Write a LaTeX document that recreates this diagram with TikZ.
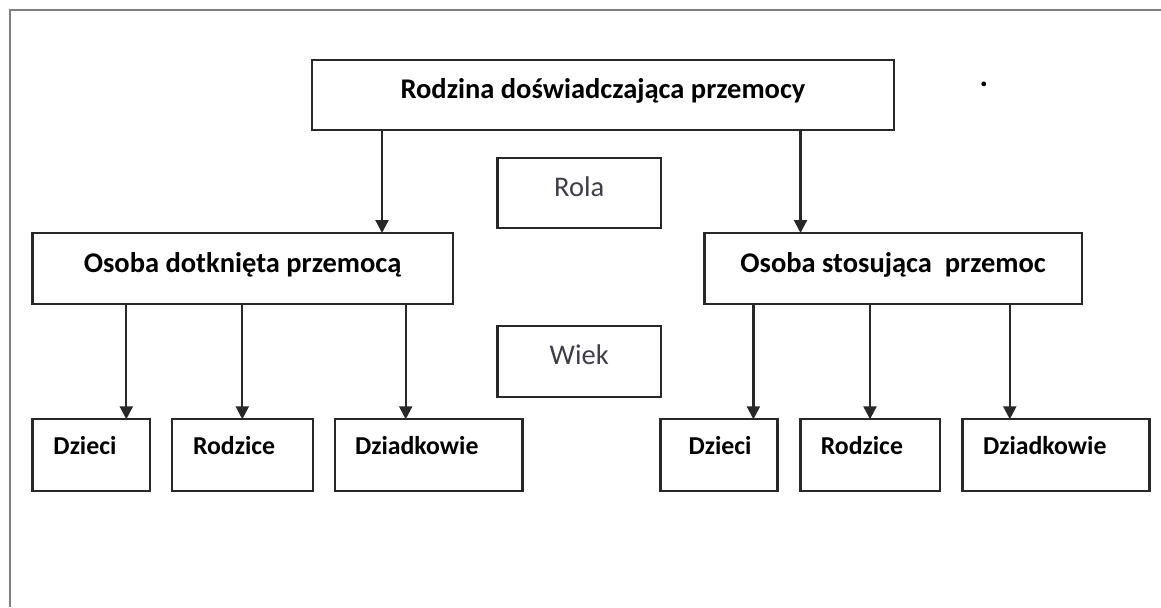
\documentclass[tikz,border=0pt]{standalone}
\usepackage{fontspec}
\setmainfont{Carlito}
\usepackage{tikz}
\usetikzlibrary{positioning,calc}
\usetikzlibrary{arrows.meta}

\definecolor{liniaszara}{RGB}{40,40,40}
\definecolor{ramkaszara}{RGB}{128,128,128}
\definecolor{tekstszary}{RGB}{62,62,72}

\begin{document}
\begin{tikzpicture}[x=0.5pt,y=-0.5pt,
  every node/.style={font=\fontsize{14.25}{17}\selectfont},
  blok/.style={draw=liniaszara,line width=1.1pt,rectangle,inner sep=0pt,outer sep=0pt,
    minimum height=35pt,text height=8.5pt,text depth=5pt,font=\fontsize{14.25}{17}\selectfont\bfseries},
  etykieta/.style={blok,font=\fontsize{14.25}{17}\selectfont,text=tekstszary},
  lisc/.style={draw=liniaszara,line width=1.1pt,rectangle,inner ysep=0pt,outer sep=0pt,
    align=left,text height=17.35pt,text depth=18.35pt,font=\fontsize{12.9}{15}\selectfont\bfseries},
  strz/.style={draw=liniaszara,line width=1.1pt,-{Triangle[width=6.5pt,length=6.5pt]}},
  ramka/.style={draw=ramkaszara,line width=1pt}]
  \useasboundingbox (0,0) rectangle (1161,607);
  % ramka
  \draw[ramka] (9.6,607) |- (1161,10);
  % poziom 0
  \node[blok,minimum width=291pt] (rodzina) at (603,95) {Rodzina doświadczająca przemocy};
  \node[etykieta,minimum width=81.75pt] (rola) at (579.25,193) {Rola};
  \node[etykieta,minimum width=81.75pt,minimum height=35.35pt] (wiek) at (579.25,361.3) {Wiek};
  \node[font=\fontsize{16}{18}\selectfont\bfseries] (kropka) at (984,84) {.};
  % poziom 1
  \node[blok,minimum width=210.1pt,minimum height=35.5pt,text height=9pt] (ofiara) at (242.6,268.5) {Osoba dotknięta przemocą};
  \node[blok,minimum width=188.6pt,minimum height=35.5pt,text height=9pt] (sprawca) at (893.1,268.5) {Osoba stosująca\ \ przemoc};
  % poziom 2
  \node[lisc,anchor=north west,inner xsep=10.5pt,text width=37.75pt] (dzieciL) at (32.5,419.3) {Dzieci};
  \node[lisc,right=11pt of dzieciL,inner xsep=10.5pt,text width=49.35pt] (rodziceL) {Rodzice};
  \node[lisc,right=11.15pt of rodziceL,inner xsep=10pt,text width=73.7pt] (dziadkowieL) {Dziadkowie};
  \node[lisc,anchor=north west,inner xsep=14.1pt,text width=30.35pt] (dzieciP) at (660.4,419.3) {Dzieci};
  \node[lisc,right=11.5pt of dzieciP,inner xsep=10.15pt,text width=49.45pt] (rodziceP) {Rodzice};
  \node[lisc,right=11.2pt of rodziceP,inner xsep=10.3pt,text width=72.95pt] (dziadkowieP) {Dziadkowie};
  % strzalki
  \foreach \z/\d/\dx in {rodzina/ofiara/174.75,rodzina/sprawca/48,
      ofiara/dzieciL/46.9,ofiara/rodziceL/35.15,ofiara/dziadkowieL/35.35,
      sprawca/dzieciP/46.5,sprawca/rodziceP/34.75,sprawca/dziadkowieP/23.7}
    \draw[strz] ([xshift=\dx pt]\d.north west) coordinate (t) (\z.south -| t) -- (t);
\end{tikzpicture}
\end{document}
